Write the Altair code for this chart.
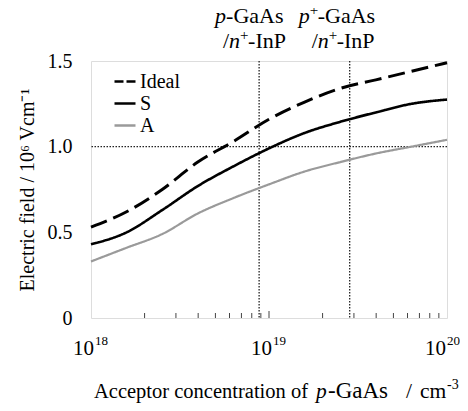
import altair as alt
import pandas as pd

FONT = "Liberation Serif"
W, H = 356, 257

# ---- data ----
conc = [1.0e18, 1.585e18, 2.512e18, 3.981e18, 6.310e18, 1.0e19,
        1.585e19, 2.512e19, 3.981e19, 6.310e19, 1.0e20]
ideal = [0.53, 0.62, 0.75, 0.91, 1.03, 1.16, 1.26, 1.34, 1.39, 1.44, 1.49]
s_vals = [0.43, 0.50, 0.63, 0.77, 0.885, 0.99, 1.08, 1.145, 1.20, 1.25, 1.275]
a_vals = [0.33, 0.41, 0.49, 0.61, 0.70, 0.78, 0.855, 0.91, 0.96, 1.00, 1.04]
series = ["Ideal", "S", "A"]
series_colors = ["#000000", "#000000", "#9a9a9a"]
junctions = [8.8e18, 2.84e19]
x_ticks = [1e18, 1e19, 1e20]
x_tick_exps = ["18", "19", "20"]
minor_ticks = [2e18, 3e18, 4e18, 5e18, 6e18, 7e18, 8e18, 9e18,
               2e19, 3e19, 4e19, 5e19, 6e19, 7e19, 8e19, 9e19]
y_ticks = [0, 0.5, 1.0, 1.5]
ref_level = [1.0]
Y_TITLE = "Electric field / 10\u2076 Vcm\u207b\u00b9"

rows = []
for name, vals in zip(series, [ideal, s_vals, a_vals]):
    for c, v in zip(conc, vals):
        rows.append({"conc": c, "E": v, "series": name})
df = pd.DataFrame(rows)

xscale = alt.Scale(type="log", domain=[1e18, 1e20], nice=False)
yscale = alt.Scale(domain=[0, 1.5], nice=False)
X = alt.X("conc:Q", scale=xscale, axis=None)
yaxis = alt.Axis(
    values=y_ticks,
    labelExpr="datum.value == 0 ? '0' : format(datum.value, '.1f')",
    ticks=False, domain=False, grid=False,
    labelFont=FONT, labelFontSize=20, labelColor="black", labelPadding=19,
    titleFont=FONT, titleFontSize=20, titleFontWeight="normal",
    titleColor="black", titlePadding=10)
Y = alt.Y("E:Q", scale=yscale, axis=yaxis, title=Y_TITLE)

lines = alt.Chart(df).mark_line(interpolate="monotone").encode(
    x=X, y=Y,
    color=alt.Color("series:N", scale=alt.Scale(domain=series, range=series_colors), legend=None),
    strokeDash=alt.StrokeDash("series:N", scale=alt.Scale(domain=series, range=[[17, 7], [1, 0], [1, 0]]), legend=None),
    strokeWidth=alt.StrokeWidth("series:N", scale=alt.Scale(domain=series, range=[3, 2.2, 2.2]), legend=None),
)

leg = alt.Legend(orient="none", legendX=22, legendY=10, title=None,
                 symbolType="stroke", symbolSize=441, symbolStrokeWidth=2.6,
                 labelFont=FONT, labelFontSize=20, labelColor="black",
                 rowPadding=1, clipHeight=21, labelOffset=3)
legend_layer = alt.Chart(df).transform_filter("false").mark_line().encode(
    x=X, y=Y,
    color=alt.Color("series:N", scale=alt.Scale(domain=series, range=series_colors), legend=leg),
    strokeDash=alt.StrokeDash("series:N", scale=alt.Scale(domain=series, range=[[9, 3], [1, 0], [1, 0]]),
                              legend=leg),
)

jdf = pd.DataFrame({"conc": junctions})
vrules = alt.Chart(jdf).mark_rule(strokeDash=[1.5, 1.5], strokeWidth=1.3, color="#222").encode(x=X)
hrules = alt.Chart(pd.DataFrame({"E": ref_level})).mark_rule(
    strokeDash=[1.5, 1.5], strokeWidth=1.3, color="#222").encode(y=Y)

mdf = pd.DataFrame({"conc": minor_ticks})
minor = alt.Chart(mdf).mark_rule(color="#444", strokeWidth=1).encode(
    x=X, y=alt.value(H), y2=alt.value(H - 5))
major = alt.Chart(pd.DataFrame({"conc": [x_ticks[1]]})).mark_rule(color="#444", strokeWidth=1).encode(
    x=X, y=alt.value(H), y2=alt.value(H - 7))


def piece(data, text, dx, y, size=20, italic=False, align="left"):
    return alt.Chart(data).mark_text(
        text=text, dx=dx, align=align, baseline="alphabetic", font=FONT,
        fontSize=size, fontStyle="italic" if italic else "normal", color="black"
    ).encode(x=X, y=alt.value(y))


j1 = pd.DataFrame({"conc": [junctions[0]]})
j2 = pd.DataFrame({"conc": [junctions[1]]})
ann = [
    piece(j1, "p", -44, -38, 22, True), piece(j1, "-GaAs", -33, -38, 22),
    piece(j1, "/", -36, -13, 22), piece(j1, "n", -30, -13, 22, True),
    piece(j1, "+", -19, -21, 15), piece(j1, "-InP", -11, -13, 22),
    piece(j2, "p", -51, -38, 22, True), piece(j2, "+", -40, -46, 15),
    piece(j2, "-GaAs", -32, -38, 22),
    piece(j2, "/", -38, -13, 22), piece(j2, "n", -32, -13, 22, True),
    piece(j2, "+", -21, -21, 15), piece(j2, "-InP", -13, -13, 22),
]

ticklab = []
label_dx = [(-18, 4), (-18, 4), (-22, 0)]
for v, e, (d10, dsup) in zip(x_ticks, x_tick_exps, label_dx):
    d = pd.DataFrame({"conc": [v]})
    ticklab.append(piece(d, "10", d10, H + 37, 21))
    ticklab.append(piece(d, e, dsup, H + 27, 13))

c19 = pd.DataFrame({"conc": [x_ticks[1]]})
TY = H + 80
xtitle = [
    piece(c19, "Acceptor concentration of", -175, TY, 20.5),
    piece(c19, "p", 47, TY, 21.5, True),
    piece(c19, "-GaAs", 59, TY, 23),
    piece(c19, "/", 137, TY, 21.5),
    piece(c19, "cm", 151, TY, 21.5),
    piece(c19, "-3", 178, TY - 9, 14),
]

chart = alt.layer(
    vrules, hrules, minor, major, lines, legend_layer, *ann, *ticklab, *xtitle
).resolve_scale(color="independent", strokeDash="independent").properties(
    width=W, height=H,
    autosize=alt.AutoSizeParams(type="none"),
    padding={"left": 83, "top": 53, "right": 13, "bottom": 85},
).configure_view(stroke="#333", strokeWidth=1.2).configure(
    background="white", font=FONT
).configure_axis(labelFont=FONT, titleFont=FONT).configure_legend(labelFont=FONT)

chart.save("out.html", embed_options={"renderer": "svg", "actions": False})
